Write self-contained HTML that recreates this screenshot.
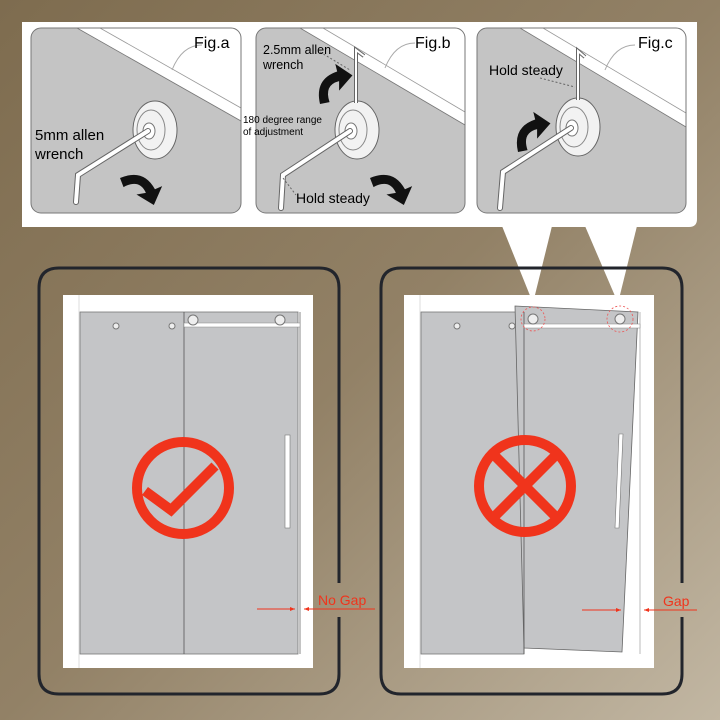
<!DOCTYPE html>
<html><head><meta charset="utf-8"><style>
html,body{margin:0;padding:0;width:720px;height:720px;overflow:hidden}
svg{display:block}
text{font-family:"Liberation Sans",sans-serif}
</style></head><body>
<svg width="720" height="720" viewBox="0 0 720 720" xmlns="http://www.w3.org/2000/svg">
<defs>
<linearGradient id="bg" x1="0" y1="0" x2="1" y2="1">
<stop offset="0" stop-color="#7e6c4f"/><stop offset="0.5" stop-color="#928166"/><stop offset="1" stop-color="#c2b7a3"/>
</linearGradient>
<marker id="ar" viewBox="0 0 10 10" refX="10" refY="5" markerWidth="5" markerHeight="5" orient="auto"><path d="M0,1 L10,5 L0,9 z" fill="#f0341c"/></marker>
<g id="blk"><path d="M0,0 q10,-16 26,-8 l3,-5 l3,15 l-15,1 l5,-5 q-10,-6 -16,6 z" fill="#111"/></g>
</defs>
<rect width="720" height="720" fill="url(#bg)"/>
<path d="M22,22 H697 V219 q0,8 -8,8 H22 z" fill="#fff"/>
<polygon points="502,226 552,226 533,303" fill="#fff"/>
<polygon points="585,226 637,226 618,303" fill="#fff"/>

<g>
<clipPath id="ca"><rect x="31" y="28" width="210" height="185" rx="10"/></clipPath>
<g clip-path="url(#ca)">
<rect x="31" y="28" width="210" height="185" fill="#c4c4c4"/>
<polygon points="77,28 241,28 241,121" fill="#fff"/>
<line x1="77" y1="28" x2="241" y2="121" stroke="#777" stroke-width="0.8"/>
<line x1="100" y1="28" x2="241" y2="108" stroke="#999" stroke-width="0.8"/>
<path d="M172,70 q10,-25 30,-25" fill="none" stroke="#aaa"/>
<ellipse cx="155" cy="130" rx="22" ry="29" fill="#f2f2f2" stroke="#666"/>
<ellipse cx="151" cy="130" rx="14" ry="20" fill="none" stroke="#888"/>
<ellipse cx="149" cy="131" rx="6" ry="8" fill="#fff" stroke="#777"/>
<path d="M148,131 L78,175 L76,202" fill="none" stroke="#666" stroke-width="6" stroke-linecap="round"/>
<path d="M148,131 L78,175 L76,202" fill="none" stroke="#fff" stroke-width="4" stroke-linecap="round"/>
<use href="#blk" transform="translate(120,178) rotate(35) scale(1.35)"/>
</g>
<rect x="31" y="28" width="210" height="185" rx="10" fill="none" stroke="#777"/>
<text x="194" y="48" font-size="16">Fig.a</text>
<text x="35" y="140" font-size="15">5mm allen</text>
<text x="35" y="159" font-size="15">wrench</text>
</g>

<g>
<clipPath id="cb"><rect x="256" y="28" width="209" height="185" rx="10"/></clipPath>
<g clip-path="url(#cb)">
<rect x="256" y="28" width="209" height="185" fill="#c4c4c4"/>
<polygon points="300,28 465,28 465,125" fill="#fff"/>
<line x1="300" y1="28" x2="465" y2="125" stroke="#777" stroke-width="0.8"/>
<line x1="323" y1="28" x2="465" y2="112" stroke="#999" stroke-width="0.8"/>
<path d="M385,68 q10,-25 30,-25" fill="none" stroke="#aaa"/>
<ellipse cx="357" cy="130" rx="22" ry="29" fill="#f2f2f2" stroke="#666"/>
<ellipse cx="353" cy="130" rx="14" ry="20" fill="none" stroke="#888"/>
<ellipse cx="351" cy="131" rx="6" ry="8" fill="#fff" stroke="#777"/>
<path d="M356,103 V50 L364,56" fill="none" stroke="#666" stroke-width="4"/>
<path d="M356,103 V50 L364,56" fill="none" stroke="#fff" stroke-width="2"/>
<path d="M350,131 L283,175 L281,208" fill="none" stroke="#666" stroke-width="6" stroke-linecap="round"/>
<path d="M350,131 L283,175 L281,208" fill="none" stroke="#fff" stroke-width="4" stroke-linecap="round"/>
<use href="#blk" transform="translate(320,104) rotate(-45) scale(1.35)"/>
<use href="#blk" transform="translate(370,178) rotate(35) scale(1.35)"/>
<line x1="320" y1="52" x2="350" y2="70" stroke="#666" stroke-dasharray="2,2"/>
<line x1="283" y1="178" x2="296" y2="195" stroke="#666" stroke-dasharray="2,2"/>
</g>
<rect x="256" y="28" width="209" height="185" rx="10" fill="none" stroke="#777"/>
<text x="415" y="48" font-size="16">Fig.b</text>
<text x="263" y="54" font-size="12.5">2.5mm allen</text>
<text x="263" y="69" font-size="12.5">wrench</text>
<text x="243" y="123" font-size="10">180 degree range</text>
<text x="243" y="135" font-size="10">of adjustment</text>
<text x="296" y="203" font-size="14">Hold steady</text>
</g>

<g>
<clipPath id="cc"><rect x="477" y="28" width="209" height="185" rx="10"/></clipPath>
<g clip-path="url(#cc)">
<rect x="477" y="28" width="209" height="185" fill="#c4c4c4"/>
<polygon points="520,28 686,28 686,127" fill="#fff"/>
<line x1="520" y1="28" x2="686" y2="127" stroke="#777" stroke-width="0.8"/>
<line x1="543" y1="28" x2="686" y2="113" stroke="#999" stroke-width="0.8"/>
<path d="M605,70 q10,-25 30,-25" fill="none" stroke="#aaa"/>
<ellipse cx="578" cy="127" rx="22" ry="29" fill="#f2f2f2" stroke="#666"/>
<ellipse cx="574" cy="127" rx="14" ry="20" fill="none" stroke="#888"/>
<ellipse cx="572" cy="128" rx="6" ry="8" fill="#fff" stroke="#777"/>
<path d="M578,100 V51 L585,57" fill="none" stroke="#666" stroke-width="4"/>
<path d="M578,100 V51 L585,57" fill="none" stroke="#fff" stroke-width="2"/>
<path d="M571,128 L503,172 L500,208" fill="none" stroke="#666" stroke-width="6" stroke-linecap="round"/>
<path d="M571,128 L503,172 L500,208" fill="none" stroke="#fff" stroke-width="4" stroke-linecap="round"/>
<use href="#blk" transform="translate(518,152) rotate(-45) scale(1.35)"/>
<line x1="540" y1="78" x2="575" y2="87" stroke="#666" stroke-dasharray="2,2"/>
</g>
<rect x="477" y="28" width="209" height="185" rx="10" fill="none" stroke="#777"/>
<text x="638" y="48" font-size="16">Fig.c</text>
<text x="489" y="75" font-size="14">Hold steady</text>
</g>

<path d="M339,583 V288 q0,-20 -20,-20 H59 q-20,0 -20,20 V674 q0,20 20,20 H319 q20,0 20,-20 V617" fill="none" stroke="#22252c" stroke-width="3"/>
<rect x="63" y="295" width="250" height="373" fill="#fff"/>
<line x1="79" y1="295" x2="79" y2="668" stroke="#ddd"/>
<rect x="80" y="312" width="218" height="342" fill="#c4c5c7" stroke="#777" stroke-width="0.8"/>
<line x1="184" y1="312" x2="184" y2="654" stroke="#555" stroke-width="0.8"/>
<line x1="300" y1="312" x2="300" y2="654" stroke="#888"/>
<rect x="184" y="323" width="116" height="4" fill="#fff" stroke="#888" stroke-width="0.5"/>
<circle cx="193" cy="320" r="5" fill="#eee" stroke="#777"/>
<circle cx="280" cy="320" r="5" fill="#eee" stroke="#777"/>
<circle cx="116" cy="326" r="3" fill="#eee" stroke="#777"/>
<circle cx="172" cy="326" r="3" fill="#eee" stroke="#777"/>
<rect x="285" y="435" width="5" height="93" fill="#fff" stroke="#777" stroke-width="0.6"/>
<circle cx="183" cy="488" r="46" fill="none" stroke="#f0341c" stroke-width="10"/>
<path d="M145,491 L171,510 L215,466" fill="none" stroke="#f0341c" stroke-width="10"/>
<line x1="257" y1="609" x2="295" y2="609" stroke="#f0341c" marker-end="url(#ar)"/>
<line x1="375" y1="609" x2="304" y2="609" stroke="#f0341c" marker-end="url(#ar)"/>
<text x="318" y="605" font-size="14" fill="#f0341c">No Gap</text>

<path d="M682,583 V288 q0,-20 -20,-20 H401 q-20,0 -20,20 V674 q0,20 20,20 H662 q20,0 20,-20 V617" fill="none" stroke="#22252c" stroke-width="3"/>
<rect x="404" y="295" width="250" height="373" fill="#fff"/>
<line x1="420" y1="295" x2="420" y2="668" stroke="#ddd"/>
<rect x="421" y="312" width="103" height="342" fill="#c4c5c7" stroke="#777" stroke-width="0.8"/>
<line x1="640" y1="312" x2="640" y2="654" stroke="#bbb"/>
<polygon points="515,306 638,312 622,652 524,648" fill="#c4c5c7" stroke="#666" stroke-width="0.8"/>
<line x1="524" y1="312" x2="524" y2="654" stroke="#555" stroke-width="0.8"/>
<rect x="524" y="324" width="116" height="4" fill="#fff" stroke="#888" stroke-width="0.5"/>
<circle cx="533" cy="319" r="5" fill="#eee" stroke="#777"/>
<circle cx="620" cy="319" r="5" fill="#eee" stroke="#777"/>
<circle cx="533" cy="319" r="12" fill="none" stroke="#e55" stroke-dasharray="2,2" stroke-width="0.8"/>
<circle cx="620" cy="319" r="13" fill="none" stroke="#e55" stroke-dasharray="2,2" stroke-width="0.8"/>
<circle cx="457" cy="326" r="3" fill="#eee" stroke="#777"/>
<circle cx="512" cy="326" r="3" fill="#eee" stroke="#777"/>
<polygon points="619,434 623,434 619,528 615,528" fill="#fff" stroke="#777" stroke-width="0.6"/>
<circle cx="525" cy="486" r="46" fill="none" stroke="#f0341c" stroke-width="10"/>
<line x1="492" y1="453" x2="558" y2="519" stroke="#f0341c" stroke-width="10"/>
<line x1="558" y1="453" x2="492" y2="519" stroke="#f0341c" stroke-width="10"/>
<line x1="582" y1="610" x2="621" y2="610" stroke="#f0341c" marker-end="url(#ar)"/>
<line x1="697" y1="610" x2="644" y2="610" stroke="#f0341c" marker-end="url(#ar)"/>
<text x="663" y="606" font-size="14" fill="#f0341c">Gap</text>
</svg>
</body></html>
